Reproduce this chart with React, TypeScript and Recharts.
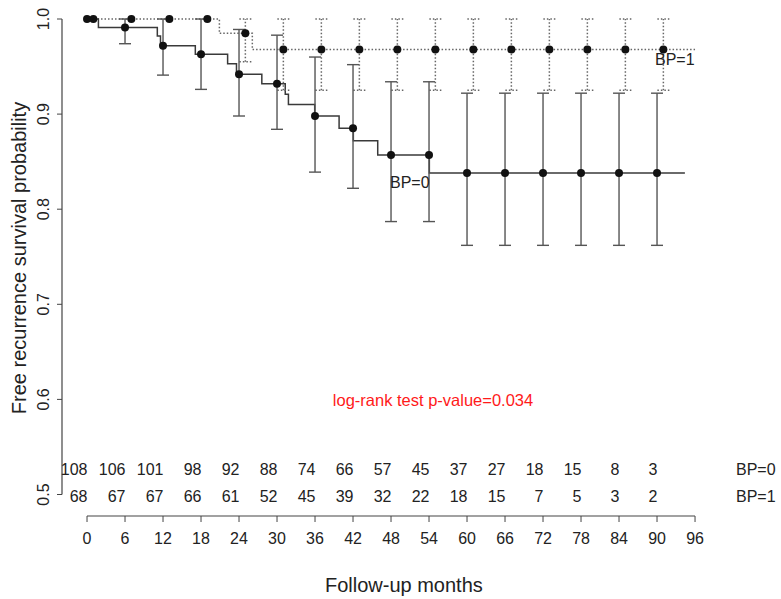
import React from 'react';
import {
  ComposedChart,
  Line,
  Scatter,
  ErrorBar,
  XAxis,
  YAxis,
  ReferenceLine,
} from 'recharts';

const FONT = '"Liberation Sans", Arial, Helvetica, sans-serif';
const INK = '#222';

// axis ticks
const xTicks = [0, 6, 12, 18, 24, 30, 36, 42, 48, 54, 60, 66, 72, 78, 84, 90, 96];
const yTicks = [0.5, 0.6, 0.7, 0.8, 0.9, 1.0];

// Kaplan-Meier steps (month where the curve drops, survival after the drop)
const bp0StepMonths = [0, 1.8, 11.1, 11.6, 17.1, 22.2, 23.6, 27.6, 31.3, 31.8, 35.95, 39.8, 42.05, 45.9, 54.05, 94.4];
const bp0StepSurv = [1, 0.991, 0.982, 0.972, 0.963, 0.953, 0.942, 0.932, 0.921, 0.91, 0.898, 0.885, 0.872, 0.857, 0.838, 0.838];
const bp1StepMonths = [0, 20.9, 26.1, 96];
const bp1StepSurv = [1, 0.985, 0.968, 0.968];

// markers with 95% CI, BP=0 every 6 months, BP=1 shifted one month
const bp0Months = [0, 6, 12, 18, 24, 30, 36, 42, 48, 54, 60, 66, 72, 78, 84, 90];
const bp0Surv = [1, 0.991, 0.972, 0.963, 0.942, 0.932, 0.898, 0.885, 0.857, 0.857, 0.838, 0.838, 0.838, 0.838, 0.838, 0.838];
const bp0Lower = [null, 0.974, 0.941, 0.926, 0.898, 0.884, 0.839, 0.822, 0.787, 0.787, 0.762, 0.762, 0.762, 0.762, 0.762, 0.762];
const bp0Upper = [null, 1, 1, 1, 0.989, 0.983, 0.96, 0.952, 0.934, 0.934, 0.922, 0.922, 0.922, 0.922, 0.922, 0.922];

const bp1Months = [1, 7, 13, 19, 25, 31, 37, 43, 49, 55, 61, 67, 73, 79, 85, 91];
const bp1Surv = [1, 1, 1, 1, 0.985, 0.968, 0.968, 0.968, 0.968, 0.968, 0.968, 0.968, 0.968, 0.968, 0.968, 0.968];
const bp1Lower = [null, null, null, null, 0.955, 0.925, 0.925, 0.925, 0.925, 0.925, 0.925, 0.925, 0.925, 0.925, 0.925, 0.925];
const bp1Upper = [null, null, null, null, 1, 1, 1, 1, 1, 1, 1, 1, 1, 1, 1, 1];

// numbers at risk
const riskMonths = [0, 6, 12, 18, 24, 30, 36, 42, 48, 54, 60, 66, 72, 78, 84, 90];
const bp0Risk = [108, 106, 101, 98, 92, 88, 74, 66, 57, 45, 37, 27, 18, 15, 8, 3];
const bp1Risk = [68, 67, 67, 66, 61, 52, 45, 39, 32, 22, 18, 15, 7, 5, 3, 2];

// layout in data units
const X_MIN = -3.95;
const X_MAX = 104;
const Y_MIN = 0.4774;
const ROW0 = 0.5258;
const ROW1 = 0.4974;

const steps = (months: number[], surv: number[]) => months.map((x, i) => ({ x, y: surv[i] }));

const points = (months: number[], surv: number[], lo: (number | null)[], hi: (number | null)[]) =>
  months.map((x, i) => ({
    x,
    y: surv[i],
    err: lo[i] == null ? null : [surv[i] - (lo[i] as number), (hi[i] as number) - surv[i]],
  }));

const bp0Pts = points(bp0Months, bp0Surv, bp0Lower, bp0Upper);
const bp1Pts = points(bp1Months, bp1Surv, bp1Lower, bp1Upper);

const riskRows = [
  ...riskMonths.map((x, i) => ({ x, y: ROW0, n: bp0Risk[i] })),
  ...riskMonths.map((x, i) => ({ x, y: ROW1, n: bp1Risk[i] })),
];

const notes = [
  { x: 47.84, y: 0.8276, text: 'BP=0', anchor: 'start', color: INK, size: 16 },
  { x: 89.68, y: 0.9569, text: 'BP=1', anchor: 'start', color: INK, size: 16 },
  { x: 54.63, y: 0.5994, text: 'log-rank test p-value=0.034', anchor: 'middle', color: '#ff1a1a', size: 16.5 },
  { x: 102.47, y: ROW0, text: 'BP=0', anchor: 'start', color: INK, size: 16 },
  { x: 102.47, y: ROW1, text: 'BP=1', anchor: 'start', color: INK, size: 16 },
];

const Dot = (p: any) => <circle cx={p.cx} cy={p.cy} r={4} fill="#111" />;

const RiskText = (p: any) => (
  <text x={p.cx + 0.5} y={p.cy} textAnchor="end" dominantBaseline="central" fontSize={16} fill={INK}>
    {p.payload.n}
  </text>
);

const NoteText = (p: any) => (
  <text
    x={p.cx}
    y={p.cy}
    textAnchor={p.payload.anchor}
    dominantBaseline="central"
    fontSize={p.payload.size}
    fill={p.payload.color}
  >
    {p.payload.text}
  </text>
);

const YTick = (p: any) => (
  <g transform={`translate(${p.x - 6},${p.y}) rotate(-90)`}>
    <text textAnchor="middle" fontSize={16} fill={INK}>
      {Number(p.payload.value).toFixed(1)}
    </text>
  </g>
);

const YTitle = () => (
  <g transform="translate(26,258) rotate(-90)">
    <text textAnchor="middle" fontSize={20} fill={INK}>
      Free recurrence survival probability
    </text>
  </g>
);

export default function App() {
  const solid = '#3a3a3a';
  const dotted = '#666';
  return (
    <div style={{ width: 781, height: 599, fontFamily: FONT, background: '#fff' }}>
      <style>{'body{margin:0}'}</style>
      <ComposedChart width={781} height={599} margin={{ top: 19, right: 35.3, bottom: 0, left: 0 }}>
        <XAxis
          type="number"
          dataKey="x"
          domain={[X_MIN, X_MAX]}
          ticks={xTicks}
          interval={0}
          height={83}
          axisLine={false}
          tickSize={6}
          tickMargin={11}
          tickLine={{ stroke: '#444' }}
          tick={{ fontSize: 16, fill: INK }}
          label={{ value: 'Follow-up months', position: 'insideBottom', offset: 7, fontSize: 20, fill: INK }}
        />
        <YAxis
          type="number"
          dataKey="y"
          domain={[Y_MIN, 1]}
          ticks={yTicks}
          interval={0}
          width={62}
          axisLine={false}
          tickSize={5}
          tickLine={{ stroke: '#444' }}
          tick={<YTick />}
          label={<YTitle />}
        />
        <ReferenceLine
          segment={[{ x: X_MIN, y: 0.5 }, { x: X_MIN, y: 1 }]}
          stroke="#444"
          strokeWidth={1.2}
          ifOverflow="visible"
        />
        <ReferenceLine
          segment={[{ x: 0, y: Y_MIN }, { x: 96, y: Y_MIN }]}
          stroke="#444"
          strokeWidth={1.2}
          ifOverflow="visible"
        />

        <Line
          data={steps(bp1StepMonths, bp1StepSurv)}
          dataKey="y"
          type="stepAfter"
          stroke={dotted}
          strokeWidth={1.5}
          strokeDasharray="1.5 2"
          dot={false}
          activeDot={false}
          isAnimationActive={false}
        />
        <Line
          data={steps(bp0StepMonths, bp0StepSurv)}
          dataKey="y"
          type="stepAfter"
          stroke={solid}
          strokeWidth={1.5}
          dot={false}
          activeDot={false}
          isAnimationActive={false}
        />

        <Scatter data={bp1Pts.filter((d) => d.err)} dataKey="y" shape={Dot} isAnimationActive={false}>
          <ErrorBar dataKey="err" direction="y" width={6} stroke={dotted} strokeWidth={1.5} strokeDasharray="1.5 2" />
        </Scatter>
        <Scatter data={bp1Pts.filter((d) => !d.err)} dataKey="y" shape={Dot} isAnimationActive={false} />
        <Scatter data={bp0Pts.filter((d) => d.err)} dataKey="y" shape={Dot} isAnimationActive={false}>
          <ErrorBar dataKey="err" direction="y" width={6} stroke="#555" strokeWidth={1.4} />
        </Scatter>
        <Scatter data={bp0Pts.filter((d) => !d.err)} dataKey="y" shape={Dot} isAnimationActive={false} />

        <Scatter data={riskRows} dataKey="y" shape={RiskText} isAnimationActive={false} />
        <Scatter data={notes} dataKey="y" shape={NoteText} isAnimationActive={false} />
      </ComposedChart>
    </div>
  );
}
